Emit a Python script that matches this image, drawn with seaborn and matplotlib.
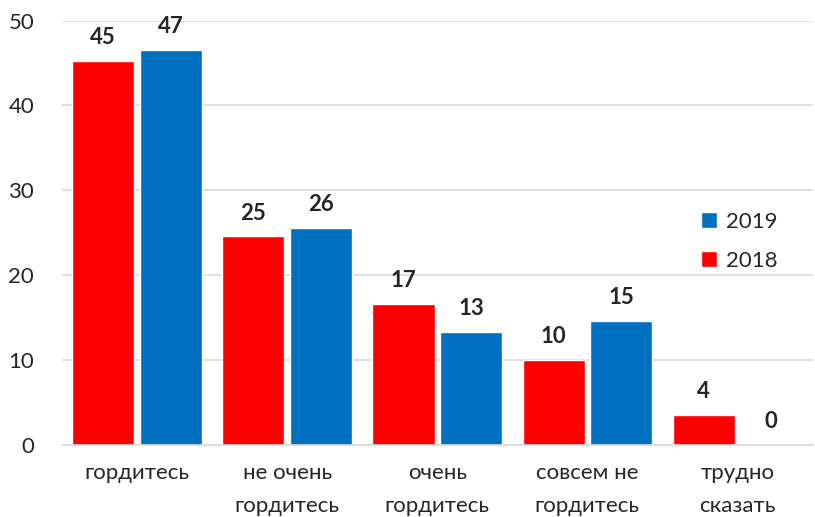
import numpy as np
import pandas as pd
import matplotlib
matplotlib.use("Agg")
import matplotlib.pyplot as plt
import seaborn as sns

# data
categories = ["гордитесь", "не очень\nгордитесь", "очень\nгордитесь", "совсем не\nгордитесь", "трудно\nсказать"]
vals_2018 = [45.3, 24.6, 16.6, 10.0, 3.5]
vals_2019 = [46.6, 25.6, 13.3, 14.6, 0.0]
years = ["2018", "2019"]
yticks = [0, 10, 20, 30, 40, 50]

df = pd.DataFrame({
    "cat": categories * 2,
    "year": ["2018"] * 5 + ["2019"] * 5,
    "val": vals_2018 + vals_2019,
})

sns.set_style("white")
plt.rcParams["font.family"] = ["Lato", "DejaVu Sans"]

fig, ax = plt.subplots(figsize=(8.15, 5.17), dpi=100)
sns.barplot(data=df, x="cat", y="val", hue="year", hue_order=years,
            palette={"2018": "#ff0000", "2019": "#0070c0"},
            width=0.9, gap=0.08, saturation=1, ax=ax)

# value labels
for cont in ax.containers:
    ax.bar_label(cont, labels=[f"{v:.0f}" for v in cont.datavalues],
                 padding=9, fontsize=16, fontweight="bold")

ax.set_ylim(0, 50)
ax.set_yticks(yticks)
ax.set_xlim(-0.5, 4.5)
ax.yaxis.grid(True, color="#d9d9d9", linewidth=1.2)
ax.set_axisbelow(True)
for s in ["left", "right", "top"]:
    ax.spines[s].set_visible(False)
ax.spines["bottom"].set_color("#d9d9d9")
ax.spines["bottom"].set_linewidth(1.2)
ax.tick_params(axis="both", length=0, labelsize=16)
ax.tick_params(axis="x", pad=13)
ax.tick_params(axis="y", pad=20)
ax.set_xlabel("")
ax.set_ylabel("")
for t in ax.get_xticklabels():
    t.set_linespacing(1.85)

handles, labels = ax.get_legend_handles_labels()
ax.legend(handles[::-1], labels[::-1], loc="center left", bbox_to_anchor=(0.825, 0.48),
          frameon=False, fontsize=16, handlelength=0.7, handleheight=0.7,
          handletextpad=0.4, labelspacing=0.85)

fig.subplots_adjust(left=0.076, right=0.997, top=0.96, bottom=0.14)
fig.savefig("out.png", dpi=100)
